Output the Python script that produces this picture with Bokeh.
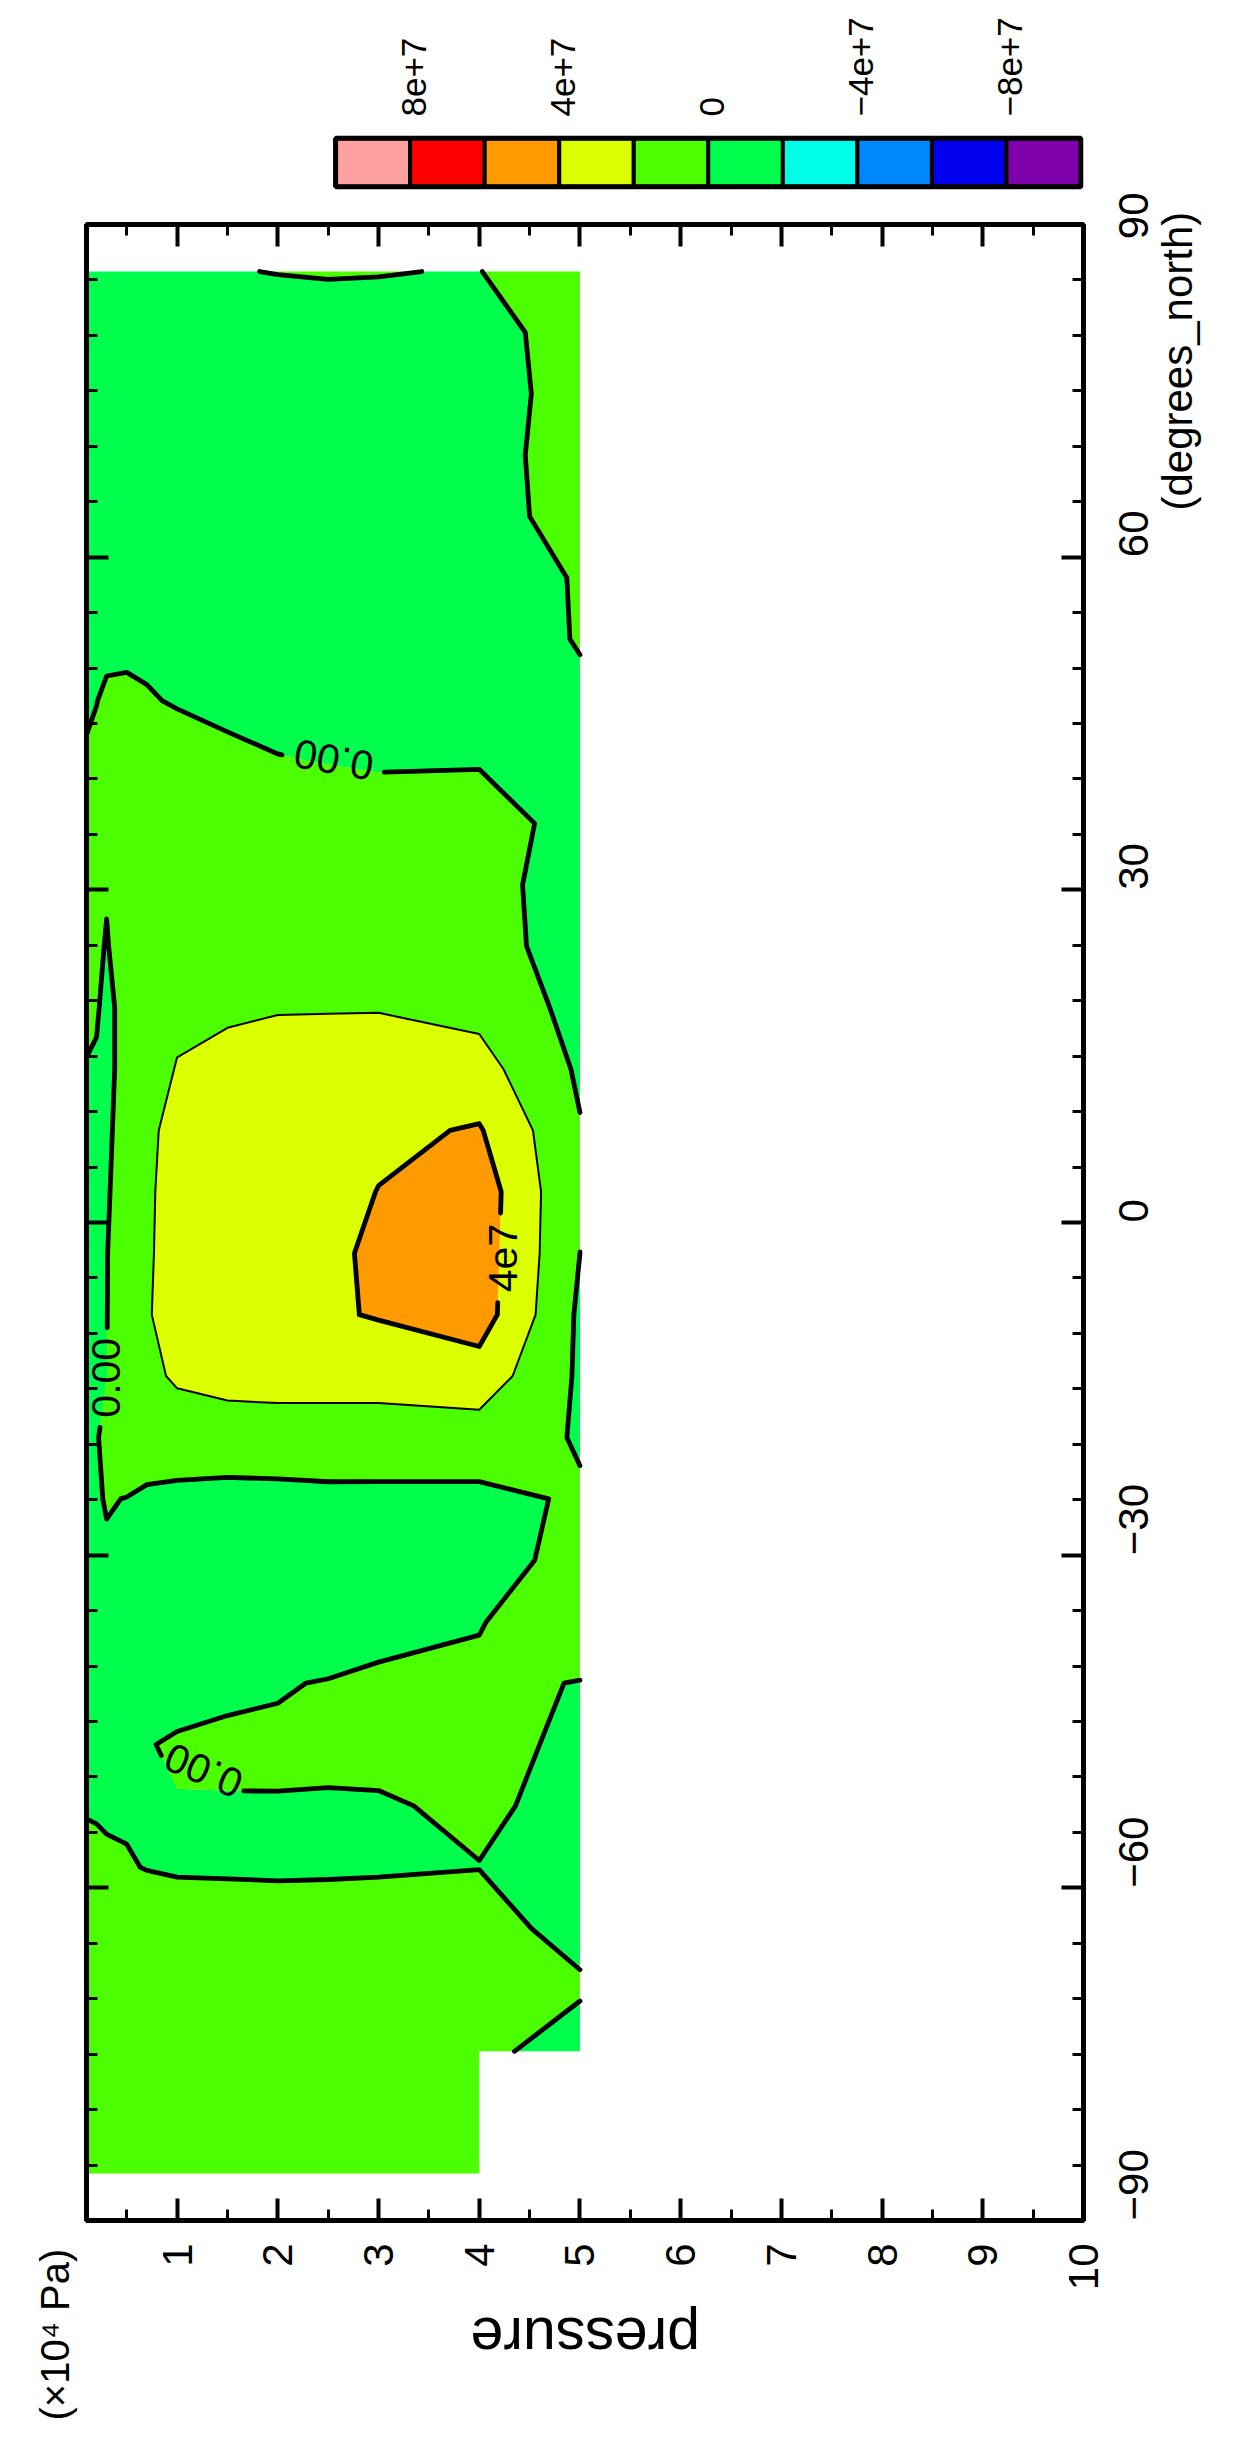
import math
import numpy as np
from bokeh.plotting import figure
from bokeh.layouts import column
from bokeh.models import FixedTicker, LinearAxis, Range1d, ColumnDataSource, Title
from bokeh.core.properties import value
from bokeh.embed import file_html
from bokeh.resources import INLINE
from contourpy import contour_generator, FillType, LineType

NaN = float("nan")

# ---------------- data ----------------
# T21 Gaussian latitudes (degrees_north), south -> north
latitudes = [-85.7606, -80.2688, -74.7445, -69.2130, -63.6786, -58.1430, -52.6065, -47.0696,
             -41.5325, -35.9951, -30.4576, -24.9199, -19.3822, -13.8445, -8.3067, -2.7689,
             2.7689, 8.3067, 13.8445, 19.3822, 24.9199, 30.4576, 35.9951, 41.5325,
             47.0696, 52.6065, 58.1430, 63.6786, 69.2130, 74.7445, 80.2688, 85.7606]
# pressure levels (x10^4 Pa)
pressure_levels = [0.1, 0.2, 0.3, 0.5, 0.7, 1.0, 1.5, 2.0, 2.5, 3.0, 4.0, 5.0]

# stream function (x1e7) on each pressure level, south -> north
psi_p010 = [0.2, 0.4, 0.6, 0.8, 1.0, 0.75, -0.2, -0.4, -0.3, -0.2, -0.15, -0.08, -0.05, -0.02, -0.02, -0.02,
            -0.05, -0.1, -0.047, 0.2, 0.3, 0.4, 0.3, 0.118, -0.15, -0.4, -0.5, -0.6, -0.5, -0.4, -0.3, -0.10]
psi_p020 = [0.25, 0.5, 0.7, 0.9, 1.0, 0.6, -0.25, -0.45, -0.4, -0.3, -0.15, -0.057, -0.05, -0.02, -0.02, -0.03,
            -0.08, -0.15, -0.108, 0.1, 0.3, 0.9, 0.8, 0.47, -0.044, -0.5, -0.7, -0.8, -0.7, -0.6, -0.4, -0.15]
psi_p030 = [0.3, 0.55, 0.8, 1.0, 1.0, 0.352, -0.3, -0.45, -0.5, -0.4, -0.071, 0.035, 0.2, -0.01, -0.02, -0.03,
            -0.1, -0.2, -0.3, -0.28, -0.1, 0.125, 1.2, 0.9, 0.4, -0.6, -0.9, -1.0, -0.9, -0.8, -0.5, -0.20]
psi_p050 = [0.3, 0.6, 0.8, 1.0, 1.1, 0.12, -0.2, -0.3, -0.7, -0.6, -0.4, -0.015, 0.5, 0.6, 0.6, 0.57,
            0.49, 0.5, 0.45, 0.42, 0.9, 1.5, 1.4, 1.1, 0.68, -0.8, -1.2, -1.3, -1.2, -1.0, -0.6, -0.25]
psi_p070 = [0.3, 0.6, 0.9, 1.1, 1.14, -0.06, -0.2, -0.069, -0.8, -0.8, -0.6, -0.21, 0.7, 1.5, 1.8, 1.7,
            1.6, 1.5, 1.37, 1.2, 1.6, 1.6, 1.5, 1.1, 0.2, -0.57, -1.4, -1.5, -1.3, -1.1, -0.6, -0.25]
psi_p100 = [0.3, 0.6, 0.9, 1.1, 1.05, -0.2, -0.062, 0.16, -0.6, -1.0, -0.8, -0.36, 0.84, 2.29, 3.05, 2.99,
            3.044, 2.78, 2.07, 1.7, 1.8, 1.7, 1.6, 1.28, -0.2, -1.2, -1.5, -1.6, -1.4, -1.1, -0.6, -0.20]
psi_p150 = [0.3, 0.6, 0.9, 1.1, 1.07, -0.25, -0.115, 0.355, -0.4, -1.1, -0.9, -0.51, 0.95, 2.7, 3.3, 3.2,
            3.15, 3.2, 2.406, 1.8, 1.85, 1.7, 1.5, 0.48, -0.5, -1.3, -1.6, -1.6, -1.4, -1.1, -0.6, -0.053]
psi_p200 = [0.3, 0.6, 0.9, 1.1, 1.06, -0.3, -0.055, 0.175, -0.086, -1.1, -0.9, -0.41, 0.855, 2.9, 3.5, 3.35,
            3.25, 3.4, 2.733, 1.9, 1.85, 1.6, 1.3, 0.105, -0.7, -1.4, -1.6, -1.6, -1.4, -1.1, -0.57, 0.03]
psi_p250 = [0.3, 0.6, 0.9, 1.1, 1.12, -0.28, -0.126, 0.3, 0.0677, -0.9, -0.9, -0.33, 0.855, 2.9, 3.76, 3.5,
            3.33, 3.5, 2.72, 1.92, 1.8, 1.5, 1.1, -0.05, -0.8, -1.3, -1.5, -1.5, -1.3, -1.1, -0.535, 0.08]
psi_p300 = [0.3, 0.6, 0.9, 1.0, 1.05, -0.2, -0.133, 0.4, 0.258, -0.5, -0.8, -0.53, 1.364, 2.5, 4.148, 4.46,
            4.043, 3.61, 2.75, 1.93, 1.7, 1.4, 0.976, -0.2, -0.8, -1.2, -1.4, -1.4, -1.2, -1.0, -0.232, 0.0226]
psi_p400 = [0.3, 0.55, 0.818, 0.9, 0.732, -0.0305, 0.247, 0.5, 0.266, -0.075, -0.6, -0.42, 1.079, 3.126, 4.947, 5.0,
            5.1, 4.159, 2.716, 1.46, 1.3, 1.2, 1.1, -0.15, -0.6, -1.0, -1.0, -1.0, -0.9, -0.8, -0.5, -0.03]
psi_p500 = [NaN, NaN, -1.52, 0.333, -0.676, -0.6, -0.439, -0.333, -0.05, 1.0, 0.49, 0.189, -0.161, -0.27, -0.32, -0.001,
            0.05, 0.11, -0.269, -0.626, -1.47, -1.59, -0.9, -0.3, -0.324, 0.111, 0.15, 1.0, 1.07, 0.747, 0.594, 0.97]
psi_columns = [psi_p010, psi_p020, psi_p030, psi_p050, psi_p070, psi_p100,
               psi_p150, psi_p200, psi_p250, psi_p300, psi_p400, psi_p500]
psi_unit = 1e7

# colour levels (x1e7) and colours, low -> high
level_edges = [-8, -6, -4, -2, 0, 2, 4, 6, 8]
band_colors = ["#7D00AA", "#0000EE", "#0088FF", "#00FFE8", "#00FF4C",
               "#4CFF00", "#DCFF00", "#FF9A00", "#FF0000", "#FFA0A0"]
colorbar_tick_values = [8, 4, 0, -4, -8]
colorbar_tick_texts = ["8e+7", "4e+7", "0", "\u22124e+7", "\u22128e+7"]

# drawn contour lines
line_levels = [0, 2, 4]
line_widths = [4.8, 2.0, 4.8]

# contour labels
clabel_text = ["0.00", "0.00", "4e7", "0.00"]
clabel_level = [0, 0, 4, 0]
clabel_p = [2.556, 0.297, 4.234, 1.265]
clabel_lat = [41.75, -14.0, -3.2, -49.4]
clabel_angle_deg = [170.0, 90.0, 90.0, 157.0]
clabel_gap_px = [52, 50, 45, 45]

# axes
pressure_ticks = [1, 2, 3, 4, 5, 6, 7, 8, 9, 10]
pressure_minor_ticks = [0.5 * k for k in range(1, 21)]
lat_ticks = [-90, -60, -30, 0, 30, 60, 90]
lat_tick_texts = ["\u221290", "\u221260", "\u221230", "0", "30", "60", "90"]
lat_minor_ticks = list(range(-90, 91, 5))
x_title, x_title_pos = "pressure", 3.913
x_units = "(\u00d710\u2074 Pa)"
y_title, y_title_pos = "(degrees_north)", 67.67

# ---------------- layout constants ----------------
P0, P1 = 0.1, 10.0
L0, L1 = -90.0, 90.0
FW, FH = 997, 1996
XS = FW / (P1 - P0)      # px per pressure unit
YS = FH / (L1 - L0)      # px per degree
FONT = "Liberation Sans"
BORDER_L, BORDER_R = 86, 135


def hide_labels(ax):
    ax.major_label_text_font_size = "1px"
    ax.major_label_text_color = None


def bare_axis(ax):
    ax.axis_line_color = None
    ax.major_tick_line_color = None
    ax.minor_tick_line_color = None
    ax.major_tick_in = 0
    ax.major_tick_out = 0
    ax.minor_tick_in = 0
    ax.minor_tick_out = 0
    ax.major_label_text_font = FONT
    ax.major_label_text_color = "black"


# ================= colour bar figure (pixel-unit frame, aligned with main frame) =================
n_bands = len(band_colors)
cb_colors = list(reversed(band_colors))           # high values on the left
CB_H = 62
CB_BOX_W = 74.54
CB_RIGHT = FW - 2.5
CB_BOTTOM, CB_TOP = 5.8, 54.2
cb_left_edges = [CB_RIGHT - (n_bands - k) * CB_BOX_W for k in range(n_bands)]

cb = figure(frame_width=FW, frame_height=CB_H, x_range=Range1d(0, FW), y_range=Range1d(0, CB_H),
            x_axis_location="above", y_axis_location=None,
            output_backend="svg", toolbar_location=None,
            min_border_left=BORDER_L, min_border_right=BORDER_R, min_border_top=130, min_border_bottom=0)
cb.title.visible = False
cb.xgrid.visible = False
cb.ygrid.visible = False
cb.outline_line_color = None
cb.background_fill_color = "white"
cb.border_fill_color = "white"
cb.quad(left=cb_left_edges, right=[x + CB_BOX_W for x in cb_left_edges], bottom=CB_BOTTOM, top=CB_TOP,
        fill_color=cb_colors, line_color="black", line_width=4)
cb.quad(left=cb_left_edges[0], right=CB_RIGHT, bottom=CB_BOTTOM, top=CB_TOP,
        fill_color=None, line_color="black", line_width=5)

cb_tick_pos = [cb_left_edges[0] + (10 - v) / 2.0 * CB_BOX_W + 4 for v in colorbar_tick_values]
cb_axis = cb.above[0]
cb_axis.ticker = FixedTicker(ticks=cb_tick_pos, minor_ticks=[])
cb_axis.major_label_overrides = {t: s for t, s in zip(cb_tick_pos, colorbar_tick_texts)}
bare_axis(cb_axis)
cb_axis.major_label_orientation = math.pi / 2
cb_axis.major_label_text_font_size = "35px"
cb_axis.major_label_standoff = 14

# ================= main figure =================
p = figure(frame_width=FW, frame_height=FH,
           x_range=Range1d(P0, P1), y_range=Range1d(L0, L1),
           x_axis_location="below", y_axis_location="right",
           output_backend="svg", toolbar_location=None,
           min_border_left=BORDER_L, min_border_right=BORDER_R,
           min_border_top=32, min_border_bottom=214)
p.title.visible = False
p.xgrid.visible = False
p.ygrid.visible = False
p.background_fill_color = "white"
p.border_fill_color = "white"
p.outline_line_color = "black"
p.outline_line_width = 5

# ---------------- filled contours ----------------
Z = np.column_stack([np.array(c, dtype=float) for c in psi_columns]) * psi_unit
gen = contour_generator(x=np.array(pressure_levels), y=np.array(latitudes),
                        z=np.ma.masked_invalid(Z), name="serial", corner_mask=False,
                        fill_type=FillType.OuterOffset, line_type=LineType.Separate)

edges = [-1e12] + [e * psi_unit for e in level_edges] + [1e12]
poly_xs, poly_ys, poly_colors = [], [], []
for k, color in enumerate(band_colors):
    pts_list, offs_list = gen.filled(edges[k], edges[k + 1])
    for pts, offs in zip(pts_list, offs_list):
        if pts is None or len(pts) == 0:
            continue
        rx, ry = [], []
        for a, b in zip(offs[:-1], offs[1:]):
            rx.append(pts[a:b, 0].tolist())
            ry.append(pts[a:b, 1].tolist())
        poly_xs.append([rx])
        poly_ys.append([ry])
        poly_colors.append(color)

p.multi_polygons(xs="xs", ys="ys", fill_color="color", line_color=None,
                 source=ColumnDataSource(dict(xs=poly_xs, ys=poly_ys, color=poly_colors)))


# ---------------- contour lines (with gaps for labels) ----------------
def cut_line(xs, ys, holes):
    X = [(x - P0) * XS for x in xs]
    Y = [(y - L0) * YS for y in ys]
    H = [((cx - P0) * XS, (cy - L0) * YS, r) for cx, cy, r in holes]
    pieces, cur = [], []
    for i in range(len(X) - 1):
        ax_, ay_, bx_, by_ = X[i], Y[i], X[i + 1], Y[i + 1]
        dx, dy = bx_ - ax_, by_ - ay_
        A = dx * dx + dy * dy
        inside = []
        if A > 0:
            for hx, hy, r in H:
                fx, fy = ax_ - hx, ay_ - hy
                B = 2 * (fx * dx + fy * dy)
                C = fx * fx + fy * fy - r * r
                disc = B * B - 4 * A * C
                if disc <= 0:
                    continue
                sq = math.sqrt(disc)
                lo = max((-B - sq) / (2 * A), 0.0)
                hi = min((-B + sq) / (2 * A), 1.0)
                if lo < hi:
                    inside.append((lo, hi))
        inside.sort()
        t = 0.0
        for lo, hi in inside:
            if lo > t:
                if not cur:
                    cur.append((ax_ + dx * t, ay_ + dy * t))
                cur.append((ax_ + dx * lo, ay_ + dy * lo))
            if len(cur) > 1:
                pieces.append(cur)
            cur = []
            t = max(t, hi)
        if t < 1.0:
            if not cur:
                cur.append((ax_ + dx * t, ay_ + dy * t))
            cur.append((bx_, by_))
    if len(cur) > 1:
        pieces.append(cur)
    return [([P0 + q[0] / XS for q in pc], [L0 + q[1] / YS for q in pc]) for pc in pieces]


for lev, lw in zip(line_levels, line_widths):
    holes = [(cx, cy, r) for cx, cy, r, cl in zip(clabel_p, clabel_lat, clabel_gap_px, clabel_level) if cl == lev]
    lxs, lys = [], []
    for seg in gen.lines(lev * psi_unit):
        if len(seg) < 2:
            continue
        for px_, py_ in cut_line(seg[:, 0].tolist(), seg[:, 1].tolist(), holes):
            lxs.append(px_)
            lys.append(py_)
    p.multi_line(xs=lxs, ys=lys, line_color="black", line_width=lw,
                 line_cap="round", line_join="round")

p.text(x="x", y="y", text="text", angle="angle",
       source=ColumnDataSource(dict(x=clabel_p, y=clabel_lat, text=clabel_text,
                                    angle=[math.radians(a) for a in clabel_angle_deg])),
       text_font=value(FONT), text_font_size="41px", text_color="black",
       text_align="center", text_baseline="middle")

# ---------------- axes ----------------
p_ticker = FixedTicker(ticks=pressure_ticks, minor_ticks=pressure_minor_ticks)
lat_ticker = FixedTicker(ticks=lat_ticks, minor_ticks=lat_minor_ticks)


def style_axis(ax):
    ax.axis_line_color = "black"
    ax.axis_line_width = 5
    ax.major_tick_in = 22
    ax.major_tick_out = 0
    ax.minor_tick_in = 11
    ax.minor_tick_out = 0
    ax.major_tick_line_width = 4
    ax.minor_tick_line_width = 3
    ax.major_tick_line_color = "black"
    ax.minor_tick_line_color = "black"
    ax.major_label_text_font = FONT
    ax.major_label_text_color = "black"
    ax.major_label_orientation = math.pi / 2
    ax.major_label_text_font_size = "42px"


bottom = p.below[0]
bottom.ticker = p_ticker
style_axis(bottom)
bottom.major_label_standoff = 23

right = p.right[0]
right.ticker = lat_ticker
style_axis(right)
right.major_label_standoff = 50
right.major_label_overrides = {t: s for t, s in zip(lat_ticks, lat_tick_texts)}

top = LinearAxis(ticker=p_ticker)
style_axis(top)
hide_labels(top)
p.add_layout(top, "above")

left = LinearAxis(ticker=lat_ticker)
style_axis(left)
hide_labels(left)
left.major_label_standoff = 19
p.add_layout(left, "left")

# axis titles
x_title_axis = LinearAxis(ticker=FixedTicker(ticks=[x_title_pos], minor_ticks=[]),
                          major_label_overrides={x_title_pos: x_title})
bare_axis(x_title_axis)
x_title_axis.major_label_orientation = math.pi
x_title_axis.major_label_text_font_size = "59px"
x_title_axis.major_label_standoff = 44
p.add_layout(x_title_axis, "below")

y_title_axis = LinearAxis(ticker=FixedTicker(ticks=[y_title_pos], minor_ticks=[]),
                          major_label_overrides={y_title_pos: y_title})
bare_axis(y_title_axis)
y_title_axis.major_label_orientation = math.pi / 2
y_title_axis.major_label_text_font_size = "42px"
y_title_axis.major_label_standoff = 12
p.add_layout(y_title_axis, "right")

p.add_layout(Title(text=x_units, align="left", vertical_align="middle", offset=-200, standoff=18,
                   text_font=FONT, text_font_size="40px", text_font_style="normal",
                   text_color="black"), "left")

layout = column(cb, p, spacing=0)
open("out.html", "w").write(file_html(layout, INLINE))
